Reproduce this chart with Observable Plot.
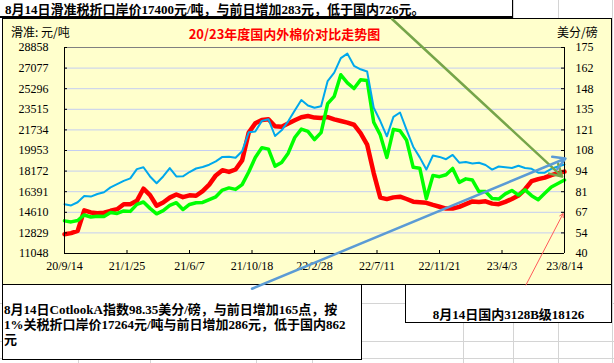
<!DOCTYPE html>
<html><head><meta charset="utf-8">
<script src="https://cdn.jsdelivr.net/npm/d3@7"></script>
<script src="https://cdn.jsdelivr.net/npm/@observablehq/plot@0.6"></script>
<style>
body{margin:0;background:#fff}
#page{position:relative;width:614px;height:363px;overflow:hidden;background:#fff}
.g{position:absolute;background:#d4d4d4}
.box{position:absolute;box-sizing:border-box;border:1px solid #000;background:#fff}
.t{position:absolute;white-space:nowrap}
.b{font-family:"Liberation Serif","Noto Sans CJK SC",serif;font-weight:bold;font-size:13px;color:#000}
.u{font-family:"Noto Sans CJK SC",sans-serif;font-size:12px;line-height:12px;color:#000}
#plot{position:absolute;left:0;top:0}
</style></head>
<body><div id="page">
<div class="g" style="left:78px;top:0;width:1px;height:363px"></div>
<div class="g" style="left:150px;top:0;width:1px;height:363px"></div>
<div class="g" style="left:256px;top:0;width:1px;height:363px"></div>
<div class="g" style="left:312px;top:0;width:1px;height:363px"></div>
<div class="g" style="left:463px;top:0;width:1px;height:363px"></div>
<div class="g" style="left:513px;top:0;width:1px;height:363px"></div>
<div class="g" style="left:558px;top:0;width:1px;height:363px"></div>
<div class="g" style="left:612px;top:0;width:1px;height:363px"></div>
<div class="g" style="left:0;top:303px;width:614px;height:1px"></div>
<div class="g" style="left:0;top:341px;width:614px;height:1px"></div>
<div class="g" style="left:0;top:358px;width:614px;height:1px"></div>

<div class="box" style="left:-1px;top:-1px;width:514px;height:19px;border-bottom-width:2px"></div>
<div class="t b" style="left:5px;top:2px;line-height:16px">8月14日滑准税折口岸价17400元/吨，与前日增加283元，低于国内726元。</div>

<div class="box" style="left:2px;top:18px;width:610px;height:267px;background:#ffffcc"></div>
<div class="t u" style="left:11px;top:26px">滑准: 元/吨</div>
<div class="t u" style="left:557px;top:26px">美分/磅</div>
<div class="t" style="left:0;width:569px;top:26px;text-align:center;font-family:'Noto Sans CJK SC',sans-serif;font-weight:bold;font-size:13px;line-height:16px;color:#ff0000">20/23年度国内外棉价对比走势图</div>

<div class="box" style="left:2px;top:284px;width:360px;height:76px"></div>
<div class="t b" style="left:4px;top:302px;line-height:15px">8月14日CotlookA指数98.35美分/磅，与前日增加165点，按<br>1%关税折口岸价17264元/吨与前日增加286元，低于国内862<br>元</div>

<div class="box" style="left:405px;top:284px;width:207px;height:39px"></div>
<div class="t b" style="left:405px;width:207px;top:307px;line-height:16px;text-align:center">8月14日国内3128B级18126</div>

<div id="plot"></div>
</div>
<script>
// biweekly observation dates
const dates = [
"2020-09-14","2020-09-28","2020-10-12","2020-10-26","2020-11-09","2020-11-23","2020-12-07","2020-12-21",
"2021-01-04","2021-01-18","2021-02-01","2021-02-15","2021-03-01","2021-03-15","2021-03-29","2021-04-12","2021-04-26","2021-05-10","2021-05-24","2021-06-07","2021-06-21","2021-07-05","2021-07-19","2021-08-02","2021-08-16","2021-08-30","2021-09-13","2021-09-27","2021-10-11","2021-10-25","2021-11-08","2021-11-22","2021-12-06","2021-12-20",
"2022-01-03","2022-01-17","2022-01-31","2022-02-14","2022-02-28","2022-03-14","2022-03-28","2022-04-11","2022-04-25","2022-05-09","2022-05-23","2022-06-06","2022-06-20","2022-07-04","2022-07-18","2022-08-01","2022-08-15","2022-08-29","2022-09-12","2022-09-26","2022-10-10","2022-10-24","2022-11-07","2022-11-21","2022-12-05","2022-12-19",
"2023-01-02","2023-01-16","2023-01-30","2023-02-13","2023-02-27","2023-03-13","2023-03-27","2023-04-10","2023-04-24","2023-05-08","2023-05-22","2023-06-05","2023-06-19","2023-07-03","2023-07-17","2023-07-31","2023-08-14"];

// Cotlook A index, US cents/lb (right axis)
const cotlookA = [72.3,71.5,73.6,77.7,77.3,79.0,80.1,83.3,85.5,87.6,89.2,95.3,96.5,90.5,86.0,90.5,96.0,90.5,90.6,93.4,95.7,96.7,98.2,100.4,103.3,103.4,102.7,107.0,119.4,120.0,126.9,128.0,117.0,120.7,126.6,133.7,140.6,137.0,135.5,136.5,153.0,158.5,168.0,171.0,163.0,160.7,159.3,135.5,126.8,116.8,129.5,132.4,121.0,110.0,103.0,95.0,104.2,103.3,101.8,104.6,99.5,100.0,99.0,99.5,98.0,95.0,97.0,96.5,96.0,97.5,96.0,95.5,93.0,93.0,95.5,97.0,98.35];

// domestic 3128B, yuan/ton (left axis)
const domestic3128B = [12720,12810,13000,14780,14600,14520,14580,14740,14880,15310,15310,15600,16650,16100,15180,15460,15880,16150,15920,16080,16040,16440,17000,17800,18250,18100,18310,19100,21500,22300,22590,22660,22050,22000,22290,22570,22830,22930,22800,22760,22840,22650,22500,22360,22180,21450,20470,18000,15880,15750,15900,15960,15760,15530,15480,15430,15250,15090,14930,14940,15080,15320,15550,15500,15560,15360,15310,15510,15760,16060,16600,17300,17475,17610,17830,18000,18126];

// sliding-scale duty import price, yuan/ton (left axis)
const slidingImport = [13870,13780,13900,14380,14200,14270,14240,14590,14510,14730,14690,15300,15500,14950,14480,14750,15200,15440,14850,15290,15440,15460,15710,15950,16530,16720,16590,17000,18100,19350,20200,20070,18600,18920,19720,21080,21800,21600,20900,21500,24000,24640,26500,25800,25310,26060,26000,22400,21300,19350,21780,21660,20830,18500,18420,15800,17800,17690,17860,18400,17200,17500,17400,16400,16400,15800,15750,16200,16500,16100,16550,16050,15700,16250,16800,17100,17400];

const leftTicks = [11048,12829,14610,16391,18172,19953,21734,23515,25296,27077,28858];
const rightTickLabels = ["40","54","67","81","94","108","121","135","148","162","175"];
const rightRange = [40, 175];
const xTickDates = ["2020-09-14","2021-01-25","2021-06-07","2021-10-18","2022-02-28","2022-07-11","2022-11-21","2023-04-03","2023-08-14"];
const xTickLabels = ["20/9/14","21/1/25","21/6/7","21/10/18","22/2/28","22/7/11","22/11/21","23/4/3","23/8/14"];

// annotation arrows (drawn shapes), in data coordinates
const greenArrow = {x1:"2022-08-12", y1:31320, x2:"2023-08-09", y2:17700};
const blueArrow  = {x1:"2021-10-18", y1:8000,  x2:"2023-08-16", y2:19260};
const redArrow   = {x1:"2023-05-24", y1:8330,  x2:"2023-08-11", y2:14490};

const parse = d3.utcParse("%Y-%m-%d");
const rows = dates.map((d,i)=>({date:parse(d), red:domestic3128B[i], green:slidingImport[i], blue:cotlookA[i]}));
const toLeft = v => leftTicks[0] + (v - rightRange[0])*(leftTicks[leftTicks.length-1]-leftTicks[0])/(rightRange[1]-rightRange[0]);
const xt = xTickDates.map(parse);
const fmtX = d => xTickLabels[xt.findIndex(t=>+t===+d)];
const arr = a => [{x1:parse(a.x1), y1:a.y1, x2:parse(a.x2), y2:a.y2}];

const ML=64, MR=50, MT=47, MB=110;
const fw = 614-ML-MR, fh = 363-MT-MB;
const x0 = parse(dates[0]), x1 = parse(dates[dates.length-1]);

const chart = Plot.plot({
  width:614, height:363,
  marginLeft:ML, marginRight:MR, marginTop:MT, marginBottom:MB,
  style:{background:"none", overflow:"visible", fontFamily:"'Liberation Serif', serif", fontSize:"12px", color:"#000"},
  x:{type:"utc", domain:[x0, x1]},
  y:{domain:[leftTicks[0], leftTicks[leftTicks.length-1]]},
  marks:[
    Plot.ruleY(leftTicks.slice(1,-1), {stroke:"#c4cef2", strokeWidth:1}),
    Plot.ruleY([leftTicks[leftTicks.length-1]], {stroke:"#808080"}),
    Plot.line(rows, {x:"date", y:"red", stroke:"#ff0000", strokeWidth:4.5, strokeLinejoin:"round"}),
    Plot.line(rows, {x:"date", y:"green", stroke:"#00ff00", strokeWidth:3.5, strokeLinejoin:"round"}),
    Plot.line(rows, {x:"date", y:d=>toLeft(d.blue), stroke:"#00a8ec", strokeWidth:2, strokeLinejoin:"round"}),
    Plot.ruleY([leftTicks[0]], {stroke:"#000"}),
    Plot.ruleX([x0], {stroke:"#000"}),
    Plot.ruleX([x1], {stroke:"#000"}),
    Plot.ruleY(leftTicks, {stroke:"#000", insetRight:fw-3}),
    Plot.ruleY(leftTicks, {stroke:"#000", insetLeft:fw-3}),
    Plot.ruleX(xt, {stroke:"#000", insetTop:fh-3}),
    Plot.axisY(leftTicks, {anchor:"left", tickSize:0, tickPadding:16, tickFormat:d=>String(d), label:null}),
    Plot.axisY(leftTicks, {anchor:"right", tickSize:0, tickPadding:11, tickFormat:d=>rightTickLabels[leftTicks.indexOf(d)], label:null}),
    Plot.axisX(xt, {anchor:"bottom", tickSize:0, tickPadding:8, tickFormat:fmtX, label:null}),
    Plot.arrow(arr(greenArrow), {x1:"x1", y1:"y1", x2:"x2", y2:"y2", stroke:"#76a54a", strokeWidth:2.5, headLength:8}),
    Plot.arrow(arr(blueArrow), {x1:"x1", y1:"y1", x2:"x2", y2:"y2", stroke:"#5b9bd5", strokeWidth:2.5, headLength:8}),
    Plot.arrow(arr(redArrow), {x1:"x1", y1:"y1", x2:"x2", y2:"y2", stroke:"#ff5a5a", strokeWidth:1, headLength:6})
  ]
});
document.getElementById("plot").appendChild(chart);
</script>
</body></html>
